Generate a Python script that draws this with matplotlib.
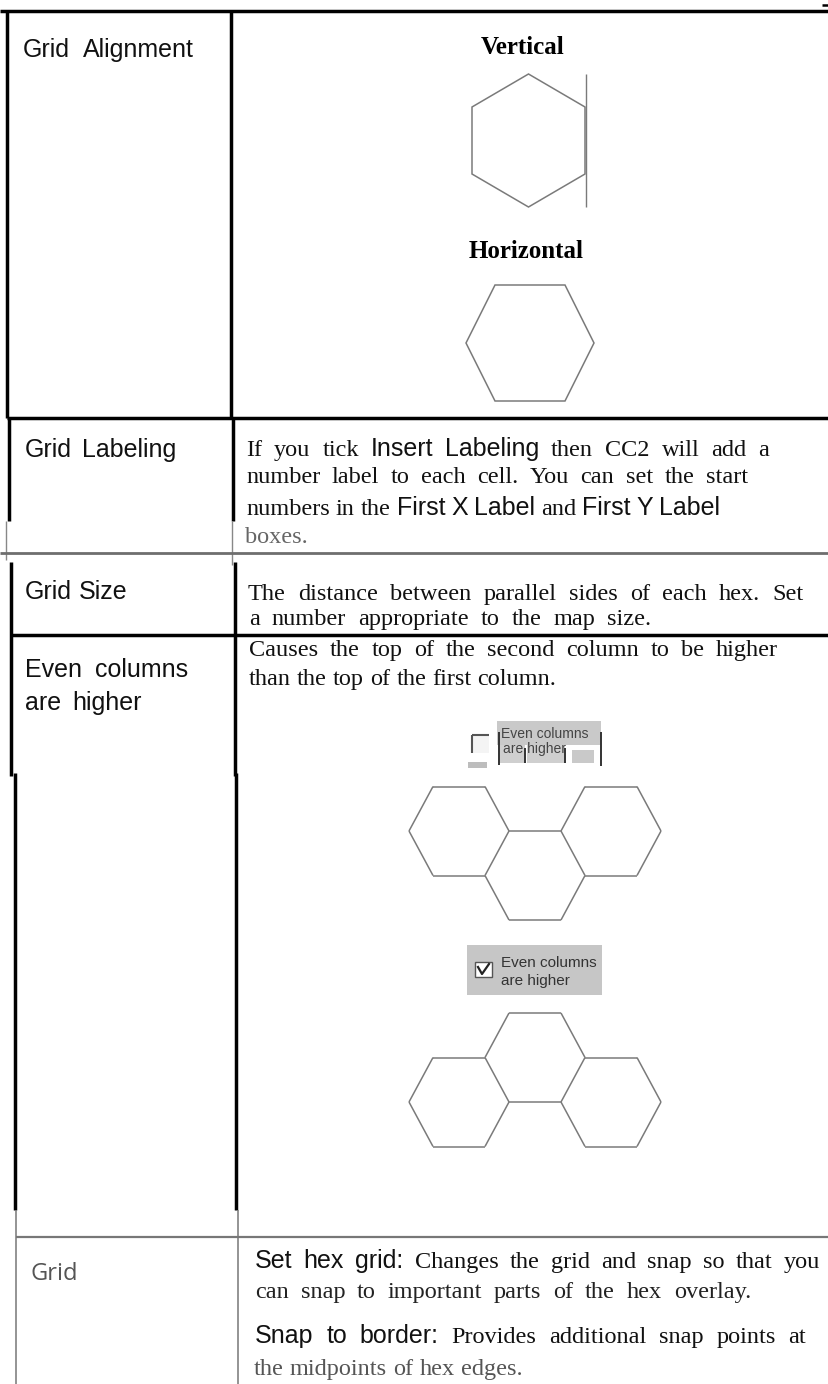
import matplotlib.pyplot as plt
from matplotlib.patches import Rectangle, Polygon
from matplotlib.collections import LineCollection

W, H = 829, 1384

# left column labels (words of each label line)
label_lines = [["Grid", "Alignment"], ["Grid", "Labeling"], ["Grid", "Size"],
               ["Even", "columns"], ["are", "higher"]]
label_x0 = [23, 25, 25, 25, 25]
label_x1 = [194, 176, 127, 188, 142]
label_base = [57, 457, 599, 677, 710]

# right column text, *...* = sans words
labeling_text = ["If you tick *Insert Labeling* then CC2 will add a",
                 "number label to each cell. You can set the start",
                 "numbers in the *First X Label* and *First Y Label*",
                 "boxes."]
size_text = ["The distance between parallel sides of each hex. Set",
             "a number appropriate to the map size."]
even_text = ["Causes the top of the second column to be higher",
             "than the top of the first column."]
grid_text = ["*Set hex grid:* Changes the grid and snap so that you",
             "can snap to important parts of the hex overlay.",
             "*Snap to border:* Provides additional snap points at",
             "the midpoints of hex edges."]

# hexagons
vert_hex = (528.5, 140.5, 56.5, 66.5, 33)     # cx, cy, half width, half height, shoulder
horiz_hex = (530, 343, 64, 35, 58)            # cx, cy, half width, half top edge, half height
hex_a, hex_b, hex_h = 50, 26, 44.5
group_cx = [459, 535, 611]
group1_cy = [831, 875.5, 831]
group2_cy = [1102, 1057.5, 1102]

STYLE = {
    'serif': dict(family='Liberation Serif', size=17.5),
    'narrow': dict(family=['Liberation Sans Narrow', 'Liberation Sans'], size=18),
    'label': dict(family=['Liberation Sans Narrow', 'Liberation Sans'], size=18),
    'bold': dict(family='Liberation Serif', size=18, weight='bold'),
}

fig = plt.figure(figsize=(W / 100, H / 100), dpi=100)
ax = fig.add_axes([0, 0, 1, 1])
ax.set_xlim(0, W)
ax.set_ylim(H, 0)
ax.axis('off')
renderer = fig.canvas.get_renderer()


def tokens(s, base='serif'):
    out = []
    for i, part in enumerate(s.split('*')):
        style = 'narrow' if i % 2 else base
        out += [(w, style) for w in part.split()]
    return out


def draw_line(words, x0, y, x1=None, color='#111111'):
    arts = [ax.text(0, y, w, color=color, va='baseline', ha='left', **STYLE[s])
            for w, s in words]
    widths = [a.get_window_extent(renderer).width for a in arts]
    natural = 0.25 * STYLE[words[0][1]]['size'] / 0.72
    if x1 is None or len(arts) == 1:
        gap = natural
    else:
        gap = max((x1 - x0 - sum(widths)) / (len(arts) - 1), 0.6 * natural)
    x = x0
    for a, w in zip(arts, widths):
        a.set_x(x)
        x += w + gap


def flat_hex(cx, cy, a, b, h):
    return [(cx - a, cy), (cx - b, cy - h), (cx + b, cy - h),
            (cx + a, cy), (cx + b, cy + h), (cx - b, cy + h)]


def seg(x0, y0, x1, y1, color='black', lw=2.5):
    ax.plot([x0, x1], [y0, y1], color=color, lw=lw, solid_capstyle='butt')


# table rules
seg(0, 11, W, 11)
seg(822, 5, W, 5, lw=1.8)
seg(7, 12, 7, 418)
seg(231, 12, 231, 418)
seg(7, 418, W, 418)
seg(9.5, 418, 9.5, 521)
seg(233, 418, 233, 521)
seg(6, 521, 6, 560, color='#888888', lw=1.0)
seg(232, 521, 232, 565, color='#888888', lw=1.0)
seg(0, 553, W, 553, color='#6e6e6e', lw=2.0)
seg(11.5, 562, 11.5, 776)
seg(235, 562, 235, 776)
seg(11.5, 635, W, 635)
seg(15, 773, 15, 1210)
seg(236.5, 773, 236.5, 1210)
seg(16, 1210, 16, H, color='#777777', lw=1.1)
seg(238, 1210, 238, H, color='#777777', lw=1.1)
seg(16, 1237, W, 1237, color='#777777', lw=1.6)

# left labels
for words, x0, x1, y in zip(label_lines, label_x0, label_x1, label_base):
    draw_line([(w, 'label') for w in words], x0, y, x1)
ax.text(31, 1280, "Grid", family='Open Sans', size=17, color='#555555',
        va='baseline', ha='left')

# row 1: alignment pictures
ax.text(523, 54, "Vertical", ha='center', va='baseline', **STYLE['bold'])
ax.text(526, 258, "Horizontal", ha='center', va='baseline', **STYLE['bold'])
cx, cy, a, h, k = vert_hex
ax.add_patch(Polygon([(cx, cy - h), (cx + a, cy - h + k), (cx + a, cy + h - k),
                      (cx, cy + h), (cx - a, cy + h - k), (cx - a, cy - h + k)],
                     closed=True, fill=False, ec='#7a7a7a', lw=1.1))
seg(cx + a + 1, cy - h, cx + a + 1, cy + h, color='#7a7a7a', lw=1.0)
ax.add_patch(Polygon(flat_hex(*horiz_hex), closed=True, fill=False,
                     ec='#7a7a7a', lw=1.1))

# body text
for s, (x0, x1, y, c) in zip(labeling_text, [(246, 769, 456, '#111111'),
                                              (246, 748, 483, '#111111'),
                                              (246, 720, 515, '#111111'),
                                              (245, None, 543, '#666666')]):
    draw_line(tokens(s), x0, y, x1, c)
for s, (x0, x1, y) in zip(size_text, [(248, 804, 600), (249, 651, 625)]):
    draw_line(tokens(s), x0, y, x1)
for s, (x0, x1, y) in zip(even_text, [(249, 778, 656), (249, None, 685)]):
    draw_line(tokens(s), x0, y, x1)
for s, (x0, x1, y, c) in zip(grid_text, [(255, 820, 1268, '#111111'),
                                          (255, 751, 1298, '#222222'),
                                          (255, 806, 1343, '#111111'),
                                          (254, None, 1375, '#555555')]):
    draw_line(tokens(s), x0, y, x1, c)

# unchecked option (rough scan)
ax.add_patch(Rectangle((497, 721), 104, 24, fc='#c9c9c9', ec='none'))
ax.add_patch(Rectangle((500, 745), 25, 18, fc='#cfcfcf', ec='none'))
ax.add_patch(Rectangle((527, 745), 38, 18, fc='#cfcfcf', ec='none'))
ax.add_patch(Rectangle((572, 750), 22, 13, fc='#c9c9c9', ec='none'))
ax.add_patch(Rectangle((468, 762), 19, 6, fc='#bdbdbd', ec='none'))
ax.add_patch(Rectangle((472, 735), 17, 18, fc='#f4f4f4', ec='none'))
seg(472, 735, 489, 735, color='#555555', lw=1.5)
seg(472, 735, 472, 753, color='#555555', lw=1.5)
for x, y0, y1 in [(499, 732, 765), (525, 748, 763), (565, 748, 763), (601, 732, 766)]:
    seg(x, y0, x, y1, color='#333333', lw=1.4)
ax.text(501, 738, "Even columns", family='Liberation Sans', size=10,
        color='#444444', va='baseline')
ax.text(503, 753, "are higher", family='Liberation Sans', size=10,
        color='#444444', va='baseline')

# checked option
ax.add_patch(Rectangle((467, 945), 135, 50, fc='#c6c6c6', ec='none'))
ax.add_patch(Rectangle((475, 962), 17, 15, fc='white', ec='#555555', lw=1.0))
ax.plot([478, 482, 489], [967, 974, 964], color='#222222', lw=1.6)
ax.text(501, 967, "Even columns", family='Liberation Sans', size=11,
        color='#333333', va='baseline')
ax.text(501, 985, "are higher", family='Liberation Sans', size=11,
        color='#333333', va='baseline')

# hex groups: shared edges drawn only once
edges = set()
for cys in (group1_cy, group2_cy):
    for gx, gy in zip(group_cx, cys):
        pts = flat_hex(gx, gy, hex_a, hex_b, hex_h)
        for p, q in zip(pts, pts[1:] + pts[:1]):
            e = tuple(sorted([(round(p[0], 1), round(p[1], 1)),
                              (round(q[0], 1), round(q[1], 1))]))
            edges.add(e)
ax.add_collection(LineCollection(sorted(edges), colors='#7a7a7a', linewidths=1.1))

fig.savefig("out.png", dpi=100)
